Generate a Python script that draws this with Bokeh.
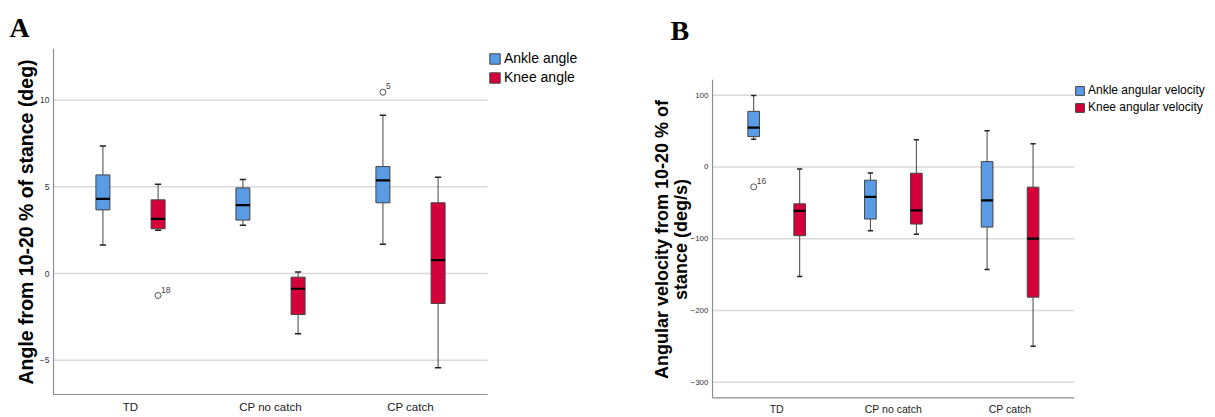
from bokeh.plotting import figure
from bokeh.layouts import row
from bokeh.models import FixedTicker, Legend, LegendItem, Title, Range1d
from bokeh.core.properties import value
from bokeh.embed import file_html
from bokeh.resources import INLINE

categories = ["TD", "CP no catch", "CP catch"]

# Panel A: angle (deg)
ankle_angle_low = [1.65, 2.79, 1.69]
ankle_angle_q1 = [3.67, 3.08, 4.08]
ankle_angle_med = [4.31, 3.94, 5.37]
ankle_angle_q3 = [5.69, 4.94, 6.17]
ankle_angle_high = [7.35, 5.42, 9.13]

knee_angle_low = [2.50, -3.48, -5.44]
knee_angle_q1 = [2.58, -2.37, -1.73]
knee_angle_med = [3.15, -0.88, 0.77]
knee_angle_q3 = [4.25, -0.21, 4.08]
knee_angle_high = [5.15, 0.08, 5.56]

outliers_a_cat = [2, 0]
outliers_a_series = ["ankle", "knee"]
outliers_a_val = [10.46, -1.27]
outliers_a_lab = ["5", "18"]

# Panel B: angular velocity (deg/s)
ankle_vel_low = [38.5, -88.9, -143.0]
ankle_vel_q1 = [42.2, -72.6, -83.8]
ankle_vel_med = [54.7, -41.7, -46.7]
ankle_vel_q3 = [77.4, -18.5, 7.4]
ankle_vel_high = [99.6, -8.3, 50.5]

knee_vel_low = [-152.8, -93.9, -250.0]
knee_vel_q1 = [-95.8, -79.6, -181.4]
knee_vel_med = [-61.1, -60.6, -100.0]
knee_vel_q3 = [-51.4, -8.8, -28.2]
knee_vel_high = [-2.8, 38.0, 32.4]

outliers_b_cat = [0]
outliers_b_series = ["ankle"]
outliers_b_val = [-27.8]
outliers_b_lab = ["16"]

ticks_a = [-5, 0, 5, 10]
ticks_b = [-300, -200, -100, 0, 100]

BLUE = "#5A9BE6"
RED = "#D3003A"
OFFSET = 0.197
BOXW = 0.1
CAPW = 0.045
XMIN, XMAX = -0.55, 2.55
FONT = "Liberation Sans"
H = 417


def draw_box(p, xs, low, q1, med, q3, high, color):
    p.segment(x0=xs, y0=q3, x1=xs, y1=high, line_color="#444444", line_width=1)
    p.segment(x0=xs, y0=low, x1=xs, y1=q1, line_color="#444444", line_width=1)
    p.segment(x0=[x - CAPW / 2 for x in xs], y0=high, x1=[x + CAPW / 2 for x in xs], y1=high,
              line_color="#222222", line_width=1.5)
    p.segment(x0=[x - CAPW / 2 for x in xs], y0=low, x1=[x + CAPW / 2 for x in xs], y1=low,
              line_color="#222222", line_width=1.5)
    r = p.vbar(x=xs, width=BOXW, top=q3, bottom=q1, fill_color=color, line_color="#444444", line_width=1)
    p.segment(x0=[x - BOXW / 2 for x in xs], y0=med, x1=[x + BOXW / 2 for x in xs], y1=med,
              line_color="black", line_width=2.2)
    return r


def style(p, ticks, axis_lo, tick_font, x_font, x_standoff, ylabel, ylabel_size, ylabel_standoff,
          letter, letter_offset, spacer):
    if "frame_align" in p.properties():
        p.frame_align = False
    p.outline_line_color = None
    p.background_fill_color = "white"
    p.border_fill_color = "white"
    p.xgrid.grid_line_color = None
    p.ygrid.grid_line_color = None
    p.segment(x0=[XMIN] * len(ticks), x1=[XMAX] * len(ticks), y0=ticks, y1=ticks,
              line_color="#d9d9d9", line_width=1.5)
    hi = p.y_range.end
    p.segment(x0=[XMIN], x1=[XMAX], y0=[axis_lo], y1=[axis_lo], line_color="#8c8c8c", line_width=1.2)
    p.segment(x0=[XMIN], x1=[XMIN], y0=[axis_lo], y1=[hi], line_color="#8c8c8c", line_width=1.2)
    p.yaxis.ticker = FixedTicker(ticks=ticks)
    p.xaxis.ticker = FixedTicker(ticks=[0, 1, 2])
    p.xaxis.major_label_overrides = {i: c for i, c in enumerate(categories)}
    for ax in (p.xaxis, p.yaxis):
        ax.major_tick_line_color = None
        ax.minor_tick_line_color = None
        ax.major_tick_out = 0
        ax.major_tick_in = 0
        ax.minor_tick_out = 0
        ax.minor_tick_in = 0
        ax.axis_line_color = None
    p.yaxis.major_label_text_font = FONT
    p.yaxis.major_label_text_font_size = tick_font
    p.yaxis.major_label_text_color = "#333333"
    p.yaxis.major_label_standoff = 3
    p.xaxis.major_label_text_font = FONT
    p.xaxis.major_label_text_font_size = x_font
    p.xaxis.major_label_text_color = "#222222"
    p.xaxis.major_label_standoff = x_standoff
    p.yaxis.axis_label = ylabel
    p.yaxis.axis_label_text_font = FONT
    p.yaxis.axis_label_text_font_style = "bold"
    p.yaxis.axis_label_text_font_size = ylabel_size
    p.yaxis.axis_label_text_color = "black"
    p.yaxis.axis_label_text_line_height = 0.95
    p.yaxis.axis_label_standoff = ylabel_standoff
    if spacer:
        # blank spacer between the frame and the panel letter
        p.add_layout(Title(text=" ", text_font_size="10px", standoff=spacer), "above")
    t = Title(text=letter, text_font="Liberation Serif", text_font_size="28px",
              text_font_style="bold", text_color="black", align="left",
              offset=letter_offset, standoff=12)
    p.add_layout(t, "above")


def outliers(p, cats, series, vals, labs, dx, dy):
    xs = [c + (-OFFSET if s == "ankle" else OFFSET) for c, s in zip(cats, series)]
    p.scatter(x=xs, y=vals, marker="circle", size=6, fill_color=None, line_color="#555555", line_width=1)
    p.text(x=xs, y=vals, text=labs, x_offset=dx, y_offset=dy, text_font=value(FONT),
           text_font_size="8.5px", text_color="#444444", text_baseline="bottom", text_align="left")


pos = [0, 1, 2]
xa = [c - OFFSET for c in pos]
xk = [c + OFFSET for c in pos]

# ---------- Panel A ----------
WA, LA, SXA = 640, 52, 140.0            # figure width, left border, px per category
TA, BA = 48, 22                          # top / bottom borders
ZA, SYA = 273.0, 17.33                   # pixel row of 0, px per degree
ya_top = (ZA - TA) / SYA
ya_bot = (ZA - (H - BA)) / SYA
axis_a_lo = (ZA - 394) / SYA
pa = figure(width=WA, height=H, output_backend="svg", toolbar_location=None,
            x_range=Range1d(XMIN - 1 / SXA, XMIN - 1 / SXA + (WA - LA) / SXA),
            y_range=Range1d(ya_bot, ya_top),
            min_border_left=LA, min_border_right=0, min_border_top=TA, min_border_bottom=BA)
style(pa, ticks_a, axis_a_lo, "8.5px", "11.5px", 5, "Angle from 10-20 % of stance (deg)", "19.5px", 0,
      "A", -43, 0)
ra1 = draw_box(pa, xa, ankle_angle_low, ankle_angle_q1, ankle_angle_med, ankle_angle_q3, ankle_angle_high, BLUE)
ra2 = draw_box(pa, xk, knee_angle_low, knee_angle_q1, knee_angle_med, knee_angle_q3, knee_angle_high, RED)
outliers(pa, outliers_a_cat, outliers_a_series, outliers_a_val, outliers_a_lab, 3, -3)
fha = H - TA - BA
leg_a = Legend(items=[LegendItem(label="Ankle angle", renderers=[ra1]),
                      LegendItem(label="Knee angle", renderers=[ra2])],
               location=(436, fha - 37), margin=0, padding=0, spacing=3,
               glyph_width=13, glyph_height=13, label_height=13, label_standoff=3,
               label_text_font=FONT, label_text_font_size="14px", label_text_color="black",
               border_line_color=None, background_fill_alpha=0)
pa.add_layout(leg_a)

# ---------- Panel B ----------
WB, LB, SXB = 1215 - WA, 71, 116.7
TB, BB = 79, 17
ZB, SYB = 166.7, 0.72
yb_top = (ZB - TB) / SYB
yb_bot = (ZB - (H - BB)) / SYB
axis_b_lo = (ZB - 398.3) / SYB
pb = figure(width=WB, height=H, output_backend="svg", toolbar_location=None,
            x_range=Range1d(XMIN - 1 / SXB, XMIN - 1 / SXB + (WB - LB) / SXB),
            y_range=Range1d(yb_bot, yb_top),
            min_border_left=LB, min_border_right=0, min_border_top=TB, min_border_bottom=BB)
style(pb, ticks_b, axis_b_lo, "8px", "10.5px", 3, "Angular velocity from 10-20 % of\nstance (deg/s)", "18px", -4,
      "B", -41, 15)
rb1 = draw_box(pb, xa, ankle_vel_low, ankle_vel_q1, ankle_vel_med, ankle_vel_q3, ankle_vel_high, BLUE)
rb2 = draw_box(pb, xk, knee_vel_low, knee_vel_q1, knee_vel_med, knee_vel_q3, knee_vel_high, RED)
outliers(pb, outliers_b_cat, outliers_b_series, outliers_b_val, outliers_b_lab, 3, -3)
fhb = H - TB - BB
leg_b = Legend(items=[LegendItem(label="Ankle angular velocity", renderers=[rb1]),
                      LegendItem(label="Knee angular velocity", renderers=[rb2])],
               location=(363, fhb + TB - 115), margin=0, padding=0, spacing=3,
               glyph_width=11, glyph_height=11, label_height=11, label_standoff=3,
               label_text_font=FONT, label_text_font_size="12px", label_text_color="black",
               border_line_color=None, background_fill_alpha=0)
pb.add_layout(leg_b)

layout = row(pa, pb)
open("out.html", "w").write(file_html(layout, INLINE))
